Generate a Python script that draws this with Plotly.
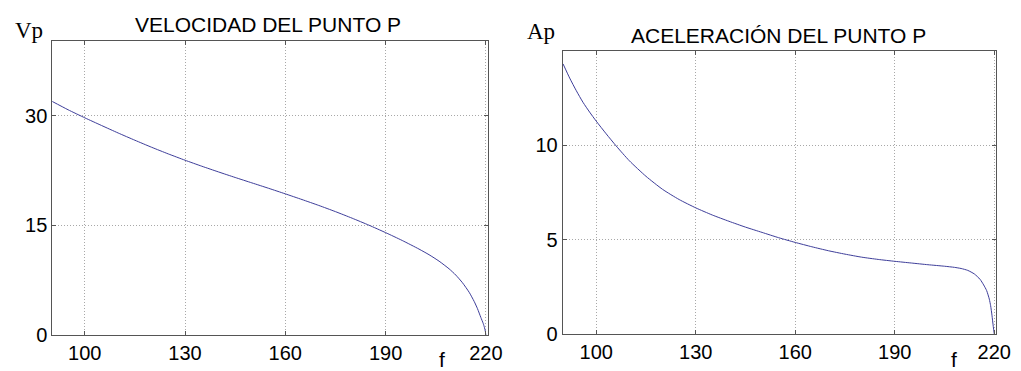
import plotly.graph_objects as go

# Velocity of point P (left panel)
f_vel = [90, 95, 100, 105, 110, 115, 120, 125, 130, 135, 140, 145, 150, 155, 160,
         165, 170, 175, 180, 185, 190, 195, 200, 203, 206, 209, 211, 213, 215, 216.5,
         217.5, 218.5, 219.2, 219.6, 219.85, 220]
vel = [32.0, 30.8, 29.7, 28.65, 27.62, 26.63, 25.67, 24.76, 23.9, 23.08, 22.3, 21.54, 20.8, 20.06, 19.3,
       18.52, 17.72, 16.87, 15.97, 15.02, 14.0, 12.92, 11.75, 10.98, 10.1, 9.05, 8.2, 7.15, 5.85, 4.6,
       3.6, 2.4, 1.6, 1.0, 0.5, 0.0]

# Acceleration of point P (right panel)
f_acc = [90, 92, 94, 96, 98, 100, 103, 106, 110, 115, 120, 125, 130, 135, 140, 145, 150,
         155, 160, 165, 170, 175, 180, 185, 190, 195, 200, 205, 208, 210, 212, 214, 215.7,
         216.8, 217.7, 218.5, 218.9, 219.3, 219.7, 220]
acc = [14.3, 13.55, 12.88, 12.27, 11.75, 11.27, 10.6, 9.96, 9.17, 8.35, 7.66, 7.12, 6.68, 6.3, 5.97,
       5.66, 5.38, 5.1, 4.85, 4.62, 4.41, 4.23, 4.07, 3.95, 3.85, 3.76, 3.67, 3.59, 3.53, 3.47,
       3.37, 3.18, 2.9, 2.6, 2.3, 1.85, 1.5, 1.0, 0.4, 0.0]

x_ticks = [100, 130, 160, 190, 220]
vel_ticks = [0, 15, 30]
acc_ticks = [0, 5, 10]

W, H = 1021, 371
LINE = "#3d3d99"
AX = "#555555"
GRID = "#a8a8a8"
SANS = "Liberation Sans, Arial, sans-serif"
SERIF = "Liberation Serif, Times New Roman, serif"

def px_x(p):
    return p / W

def px_y(p):
    return 1 - p / H

fig = go.Figure()
fig.add_trace(go.Scatter(x=f_vel, y=vel, mode="lines",
                         line=dict(color=LINE, width=1, shape="spline", smoothing=0.6),
                         xaxis="x", yaxis="y", showlegend=False))
fig.add_trace(go.Scatter(x=f_acc, y=acc, mode="lines",
                         line=dict(color=LINE, width=1, shape="spline", smoothing=0.6),
                         xaxis="x2", yaxis="y2", showlegend=False))

common = dict(showline=True, linecolor=AX, linewidth=1, mirror="ticks",
              ticks="inside", ticklen=4, tickcolor=AX,
              showgrid=True, gridcolor=GRID, griddash="1px,2px", gridwidth=1,
              zeroline=False, tickfont=dict(family=SANS, size=20, color="black"))

fig.update_layout(
    width=W, height=H, autosize=False,
    margin=dict(l=0, r=0, t=0, b=0),
    paper_bgcolor="white", plot_bgcolor="white",
    xaxis=dict(domain=[px_x(45), px_x(487)], range=[90.3, 220.6], tickvals=x_ticks,
               anchor="y", **common),
    yaxis=dict(domain=[px_y(337), px_y(34)], range=[0, 40.2], tickvals=vel_ticks,
               anchor="x", **common),
    xaxis2=dict(domain=[px_x(563), px_x(1003)], range=[89.9, 220.6], tickvals=x_ticks,
                anchor="y2", **common),
    yaxis2=dict(domain=[px_y(336), px_y(44)], range=[0, 15], tickvals=acc_ticks,
                anchor="x2", **common),
)

annots = [
    dict(text="VELOCIDAD DEL PUNTO P", x=px_x(264), y=px_y(17),
         font=dict(family=SANS, size=21, color="black")),
    dict(text="ACELERACIÓN DEL PUNTO P", x=px_x(782), y=px_y(28),
         font=dict(family=SANS, size=21, color="black")),
    dict(text="Vp", x=px_x(21), y=px_y(23), font=dict(family=SERIF, size=23, color="black")),
    dict(text="Ap", x=px_x(541), y=px_y(24), font=dict(family=SERIF, size=23, color="black")),
    dict(text="f", x=px_x(440), y=px_y(362), font=dict(family=SANS, size=21, color="black")),
    dict(text="f", x=px_x(960), y=px_y(362), font=dict(family=SANS, size=21, color="black")),
]
for a in annots:
    fig.add_annotation(xref="paper", yref="paper", xanchor="center", yanchor="middle",
                       showarrow=False, **a)

fig.write_html("out.html")
